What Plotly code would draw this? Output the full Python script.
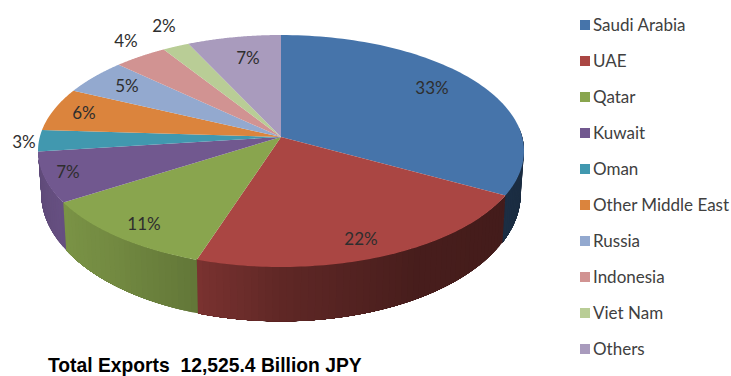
import numpy as np
import plotly.graph_objects as go

# Export shares by destination, in percent
categories = ["Saudi Arabia", "UAE", "Qatar", "Kuwait", "Oman",
              "Other Middle East", "Russia", "Indonesia", "Viet Nam", "Others"]
shares = [33, 22, 11, 7, 3, 6, 5, 4, 2, 7]
colors = ["#4674AA", "#AA4643", "#89A54E", "#71588F", "#4198AF",
          "#DB843D", "#93A9CF", "#D19392", "#B9CD96", "#A99BBD"]
title_text = "Total Exports  12,525.4 Billion JPY"

# Label anchors for the percentages, in page pixels
label_x = [432, 361, 144, 68, 24, 84, 127, 126, 164, 248]
label_y = [89.5, 240.5, 225.5, 173.5, 143.5, 114.5, 87.5, 42.5, 27.5, 59.5]

W, H = 731, 376
CX, CY = 281, 137       # where the slices meet on the top face
K = 0.1207              # perspective strength
TOP = (241.2, 114.3, 0)     # x scale, y scale, y offset of the top rim
BOTTOM = (238.0, 126.0, 41) # same for the bottom rim


def project(theta_deg, rim):
    """Map a clockwise-from-north angle on the disc to page pixels."""
    t = np.radians(theta_deg)
    X, Y = np.sin(t), np.cos(t)
    d = 1 + K * Y
    return CX + rim[0] * X / d, CY + rim[2] - rim[1] * Y / d


def shade(theta_deg):
    # Wall brightness changes around the rim: dark on the right, light on the left
    return np.interp(theta_deg, [100, 150, 180, 198, 220, 240, 265],
                     [0.38, 0.42, 0.56, 0.72, 0.84, 0.90, 0.82])


def darker(hex_color, f):
    r, g, b = (int(hex_color[i:i + 2], 16) for i in (1, 3, 5))
    return f"rgb({r * f:.0f},{g * f:.0f},{b * f:.0f})"


def poly(xs, ys, color, name):
    return go.Scatter(x=xs, y=ys, mode="none", fill="toself", fillcolor=color,
                      hoverinfo="skip", showlegend=False, name=name)


fig = go.Figure()
edges = np.concatenate([[0], np.cumsum(shares)]) * 3.6 * 100 / sum(shares)

# Side walls: each strip runs to the end of its slice and the next one paints
# over it, which keeps the shading free of hairline seams
for name, color, a0, a1 in zip(categories, colors, edges[:-1], edges[1:]):
    lo, hi = max(a0, 85), min(a1, 263)
    if lo >= hi:
        continue
    for s0 in np.arange(lo, hi, 1.5):
        a = np.linspace(s0, hi, 30)
        tx, ty = project(a, TOP)
        bx, by = project(a[::-1], BOTTOM)
        fig.add_trace(poly(np.r_[tx, bx], np.r_[ty, by],
                           darker(color, shade(s0 + 0.75)), name))

# Top face wedges
for name, color, a0, a1 in zip(categories, colors, edges[:-1], edges[1:]):
    a = np.linspace(a0, a1, 80)
    rx, ry = project(a, TOP)
    fig.add_trace(poly(np.r_[CX, rx, CX], np.r_[CY, ry, CY], color, name))

# Percentage labels
fig.add_trace(go.Scatter(
    x=label_x, y=label_y, mode="text", text=[f"{v}%" for v in shares],
    textfont=dict(family="Lato", size=17, color="#2E2E2E"),
    textposition="middle center", hoverinfo="skip", showlegend=False))

# Key on the right
key_y = [25 + 36 * i for i in range(len(categories))]
fig.add_trace(go.Scatter(
    x=[585] * len(categories), y=key_y, mode="markers",
    marker=dict(symbol="square", size=10, color=colors),
    hoverinfo="skip", showlegend=False))
fig.add_trace(go.Scatter(
    x=[593] * len(categories), y=[v + 1.5 for v in key_y], mode="text",
    text=categories, textposition="middle right",
    textfont=dict(family="Lato", size=17, color="#404040"),
    hoverinfo="skip", showlegend=False, cliponaxis=False))

fig.update_layout(
    width=W, height=H, margin=dict(l=0, r=0, t=0, b=0),
    paper_bgcolor="white", plot_bgcolor="white", showlegend=False,
    xaxis=dict(range=[0, W], visible=False, fixedrange=True),
    yaxis=dict(range=[H, 0], visible=False, fixedrange=True),
    annotations=[dict(x=46, y=365.5, xref="x", yref="y", xanchor="left", yanchor="middle",
                      text=title_text, showarrow=False,
                      font=dict(family="Liberation Sans", size=19.3, color="black", weight="bold"))],
)
fig.write_html("out.html", config={"displayModeBar": False})
